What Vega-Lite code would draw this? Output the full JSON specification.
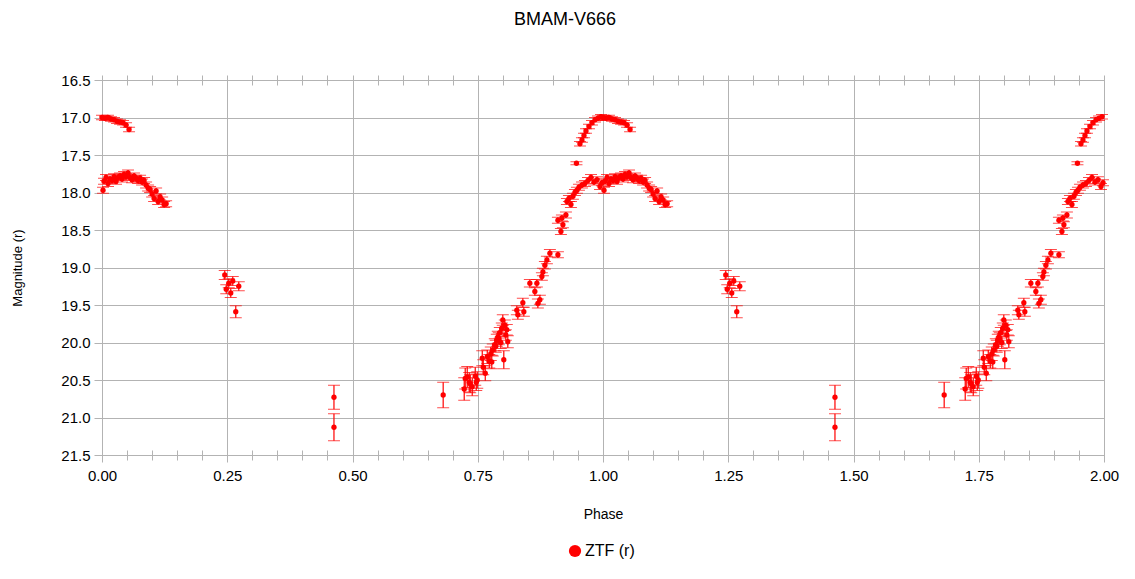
{
"$schema": "https://vega.github.io/schema/vega-lite/v6.json",
"width": 1002, "height": 375,
"autosize": {"type": "none"},
"padding": {"left": 102, "top": 80, "right": 31, "bottom": 124},
"background": "white",
"title": {"text": "BMAM-V666", "font": "Liberation Sans", "fontSize": 18, "fontWeight": "normal", "color": "#000", "anchor": "middle", "dx": -38, "offset": 44},
"data": {"values": [
{"p":0.000,"m":17.00,"e":0.03},{"p":0.006,"m":17.01,"e":0.03},{"p":0.012,"m":17.00,"e":0.03},{"p":0.018,"m":17.02,"e":0.03},{"p":0.024,"m":17.03,"e":0.03},{"p":0.030,"m":17.05,"e":0.03},{"p":0.036,"m":17.06,"e":0.03},{"p":0.042,"m":17.07,"e":0.03},{"p":0.048,"m":17.10,"e":0.03},{"p":0.054,"m":17.16,"e":0.03},
{"p":0.947,"m":17.61,"e":0.02},{"p":0.954,"m":17.35,"e":0.03},{"p":0.958,"m":17.30,"e":0.03},{"p":0.962,"m":17.24,"e":0.03},{"p":0.966,"m":17.18,"e":0.03},{"p":0.972,"m":17.12,"e":0.03},{"p":0.978,"m":17.07,"e":0.03},{"p":0.984,"m":17.03,"e":0.03},{"p":0.990,"m":17.01,"e":0.03},{"p":0.996,"m":16.99,"e":0.03},
{"p":0.002,"m":17.97,"e":0.04},{"p":0.004,"m":17.85,"e":0.04},{"p":0.008,"m":17.80,"e":0.04},{"p":0.012,"m":17.88,"e":0.04},{"p":0.016,"m":17.82,"e":0.04},{"p":0.020,"m":17.84,"e":0.04},{"p":0.024,"m":17.79,"e":0.04},{"p":0.028,"m":17.85,"e":0.04},{"p":0.032,"m":17.80,"e":0.04},{"p":0.036,"m":17.78,"e":0.04},{"p":0.040,"m":17.82,"e":0.04},{"p":0.044,"m":17.76,"e":0.04},{"p":0.048,"m":17.79,"e":0.04},{"p":0.052,"m":17.74,"e":0.04},{"p":0.056,"m":17.80,"e":0.04},{"p":0.060,"m":17.83,"e":0.04},{"p":0.064,"m":17.78,"e":0.04},{"p":0.068,"m":17.81,"e":0.04},{"p":0.072,"m":17.84,"e":0.04},{"p":0.076,"m":17.81,"e":0.04},{"p":0.080,"m":17.86,"e":0.04},{"p":0.084,"m":17.84,"e":0.04},{"p":0.088,"m":17.90,"e":0.04},{"p":0.092,"m":17.94,"e":0.04},{"p":0.096,"m":17.96,"e":0.04},{"p":0.100,"m":18.02,"e":0.04},{"p":0.104,"m":18.08,"e":0.04},{"p":0.108,"m":17.98,"e":0.04},{"p":0.112,"m":18.12,"e":0.04},{"p":0.116,"m":18.06,"e":0.04},{"p":0.120,"m":18.10,"e":0.04},{"p":0.124,"m":18.16,"e":0.04},{"p":0.128,"m":18.15,"e":0.04},
{"p":0.245,"m":19.10,"e":0.06},{"p":0.248,"m":19.29,"e":0.06},{"p":0.253,"m":19.21,"e":0.06},{"p":0.257,"m":19.34,"e":0.06},{"p":0.261,"m":19.18,"e":0.06},{"p":0.267,"m":19.59,"e":0.08},{"p":0.273,"m":19.25,"e":0.06},
{"p":0.463,"m":20.73,"e":0.16},{"p":0.463,"m":21.13,"e":0.18},{"p":0.681,"m":20.70,"e":0.17},
{"p":0.723,"m":20.62,"e":0.15},{"p":0.725,"m":20.48,"e":0.14},{"p":0.729,"m":20.46,"e":0.14},{"p":0.733,"m":20.53,"e":0.13},{"p":0.735,"m":20.55,"e":0.12},{"p":0.739,"m":20.59,"e":0.12},{"p":0.745,"m":20.45,"e":0.12},{"p":0.747,"m":20.53,"e":0.11},{"p":0.749,"m":20.50,"e":0.11},{"p":0.759,"m":20.21,"e":0.10},{"p":0.761,"m":20.33,"e":0.10},{"p":0.765,"m":20.41,"e":0.10},{"p":0.769,"m":20.19,"e":0.09},{"p":0.773,"m":20.25,"e":0.09},{"p":0.776,"m":20.15,"e":0.09},{"p":0.778,"m":20.26,"e":0.09},{"p":0.780,"m":20.10,"e":0.08},{"p":0.784,"m":20.03,"e":0.08},{"p":0.786,"m":20.05,"e":0.08},{"p":0.788,"m":19.97,"e":0.08},{"p":0.790,"m":19.93,"e":0.08},{"p":0.792,"m":19.95,"e":0.08},{"p":0.794,"m":19.87,"e":0.07},{"p":0.796,"m":20.00,"e":0.08},{"p":0.798,"m":19.81,"e":0.07},{"p":0.800,"m":19.70,"e":0.07},{"p":0.802,"m":20.23,"e":0.12},{"p":0.804,"m":19.77,"e":0.07},{"p":0.806,"m":19.90,"e":0.07},{"p":0.808,"m":19.83,"e":0.07},{"p":0.810,"m":19.99,"e":0.08},{"p":0.828,"m":19.57,"e":0.06},{"p":0.830,"m":19.63,"e":0.06},{"p":0.840,"m":19.47,"e":0.06},{"p":0.842,"m":19.59,"e":0.06},{"p":0.854,"m":19.21,"e":0.05},{"p":0.864,"m":19.32,"e":0.05},{"p":0.868,"m":19.21,"e":0.05},{"p":0.870,"m":19.48,"e":0.06},{"p":0.874,"m":19.43,"e":0.06},{"p":0.878,"m":19.12,"e":0.05},{"p":0.880,"m":19.06,"e":0.05},{"p":0.884,"m":18.97,"e":0.05},{"p":0.888,"m":18.90,"e":0.05},{"p":0.894,"m":18.81,"e":0.05},{"p":0.910,"m":18.83,"e":0.04},
{"p":0.910,"m":18.37,"e":0.04},{"p":0.916,"m":18.52,"e":0.04},{"p":0.918,"m":18.34,"e":0.04},{"p":0.920,"m":18.43,"e":0.04},{"p":0.926,"m":18.30,"e":0.04},{"p":0.928,"m":18.12,"e":0.04},{"p":0.932,"m":18.08,"e":0.04},{"p":0.936,"m":18.16,"e":0.04},{"p":0.940,"m":18.05,"e":0.04},{"p":0.944,"m":18.00,"e":0.04},{"p":0.948,"m":17.97,"e":0.04},{"p":0.952,"m":17.93,"e":0.04},{"p":0.958,"m":17.90,"e":0.04},{"p":0.964,"m":17.88,"e":0.04},{"p":0.970,"m":17.84,"e":0.04},{"p":0.976,"m":17.80,"e":0.04},{"p":0.982,"m":17.86,"e":0.04},{"p":0.988,"m":17.83,"e":0.04},{"p":0.994,"m":17.92,"e":0.04},{"p":0.998,"m":17.87,"e":0.04},

{"p":1.000,"m":17.00,"e":0.03},{"p":1.006,"m":17.01,"e":0.03},{"p":1.012,"m":17.00,"e":0.03},{"p":1.018,"m":17.02,"e":0.03},{"p":1.024,"m":17.03,"e":0.03},{"p":1.030,"m":17.05,"e":0.03},{"p":1.036,"m":17.06,"e":0.03},{"p":1.042,"m":17.07,"e":0.03},{"p":1.048,"m":17.10,"e":0.03},{"p":1.054,"m":17.16,"e":0.03},
{"p":1.947,"m":17.61,"e":0.02},{"p":1.954,"m":17.35,"e":0.03},{"p":1.958,"m":17.30,"e":0.03},{"p":1.962,"m":17.24,"e":0.03},{"p":1.966,"m":17.18,"e":0.03},{"p":1.972,"m":17.12,"e":0.03},{"p":1.978,"m":17.07,"e":0.03},{"p":1.984,"m":17.03,"e":0.03},{"p":1.990,"m":17.01,"e":0.03},{"p":1.996,"m":16.99,"e":0.03},
{"p":1.002,"m":17.97,"e":0.04},{"p":1.004,"m":17.85,"e":0.04},{"p":1.008,"m":17.80,"e":0.04},{"p":1.012,"m":17.88,"e":0.04},{"p":1.016,"m":17.82,"e":0.04},{"p":1.020,"m":17.84,"e":0.04},{"p":1.024,"m":17.79,"e":0.04},{"p":1.028,"m":17.85,"e":0.04},{"p":1.032,"m":17.80,"e":0.04},{"p":1.036,"m":17.78,"e":0.04},{"p":1.040,"m":17.82,"e":0.04},{"p":1.044,"m":17.76,"e":0.04},{"p":1.048,"m":17.79,"e":0.04},{"p":1.052,"m":17.74,"e":0.04},{"p":1.056,"m":17.80,"e":0.04},{"p":1.060,"m":17.83,"e":0.04},{"p":1.064,"m":17.78,"e":0.04},{"p":1.068,"m":17.81,"e":0.04},{"p":1.072,"m":17.84,"e":0.04},{"p":1.076,"m":17.81,"e":0.04},{"p":1.080,"m":17.86,"e":0.04},{"p":1.084,"m":17.84,"e":0.04},{"p":1.088,"m":17.90,"e":0.04},{"p":1.092,"m":17.94,"e":0.04},{"p":1.096,"m":17.96,"e":0.04},{"p":1.100,"m":18.02,"e":0.04},{"p":1.104,"m":18.08,"e":0.04},{"p":1.108,"m":17.98,"e":0.04},{"p":1.112,"m":18.12,"e":0.04},{"p":1.116,"m":18.06,"e":0.04},{"p":1.120,"m":18.10,"e":0.04},{"p":1.124,"m":18.16,"e":0.04},{"p":1.128,"m":18.15,"e":0.04},
{"p":1.245,"m":19.10,"e":0.06},{"p":1.248,"m":19.29,"e":0.06},{"p":1.253,"m":19.21,"e":0.06},{"p":1.257,"m":19.34,"e":0.06},{"p":1.261,"m":19.18,"e":0.06},{"p":1.267,"m":19.59,"e":0.08},{"p":1.273,"m":19.25,"e":0.06},
{"p":1.463,"m":20.73,"e":0.16},{"p":1.463,"m":21.13,"e":0.18},{"p":1.681,"m":20.70,"e":0.17},
{"p":1.723,"m":20.62,"e":0.15},{"p":1.725,"m":20.48,"e":0.14},{"p":1.729,"m":20.46,"e":0.14},{"p":1.733,"m":20.53,"e":0.13},{"p":1.735,"m":20.55,"e":0.12},{"p":1.739,"m":20.59,"e":0.12},{"p":1.745,"m":20.45,"e":0.12},{"p":1.747,"m":20.53,"e":0.11},{"p":1.749,"m":20.50,"e":0.11},{"p":1.759,"m":20.21,"e":0.10},{"p":1.761,"m":20.33,"e":0.10},{"p":1.765,"m":20.41,"e":0.10},{"p":1.769,"m":20.19,"e":0.09},{"p":1.773,"m":20.25,"e":0.09},{"p":1.776,"m":20.15,"e":0.09},{"p":1.778,"m":20.26,"e":0.09},{"p":1.780,"m":20.10,"e":0.08},{"p":1.784,"m":20.03,"e":0.08},{"p":1.786,"m":20.05,"e":0.08},{"p":1.788,"m":19.97,"e":0.08},{"p":1.790,"m":19.93,"e":0.08},{"p":1.792,"m":19.95,"e":0.08},{"p":1.794,"m":19.87,"e":0.07},{"p":1.796,"m":20.00,"e":0.08},{"p":1.798,"m":19.81,"e":0.07},{"p":1.800,"m":19.70,"e":0.07},{"p":1.802,"m":20.23,"e":0.12},{"p":1.804,"m":19.77,"e":0.07},{"p":1.806,"m":19.90,"e":0.07},{"p":1.808,"m":19.83,"e":0.07},{"p":1.810,"m":19.99,"e":0.08},{"p":1.828,"m":19.57,"e":0.06},{"p":1.830,"m":19.63,"e":0.06},{"p":1.840,"m":19.47,"e":0.06},{"p":1.842,"m":19.59,"e":0.06},{"p":1.854,"m":19.21,"e":0.05},{"p":1.864,"m":19.32,"e":0.05},{"p":1.868,"m":19.21,"e":0.05},{"p":1.870,"m":19.48,"e":0.06},{"p":1.874,"m":19.43,"e":0.06},{"p":1.878,"m":19.12,"e":0.05},{"p":1.880,"m":19.06,"e":0.05},{"p":1.884,"m":18.97,"e":0.05},{"p":1.888,"m":18.90,"e":0.05},{"p":1.894,"m":18.81,"e":0.05},{"p":1.910,"m":18.83,"e":0.04},
{"p":1.910,"m":18.37,"e":0.04},{"p":1.916,"m":18.52,"e":0.04},{"p":1.918,"m":18.34,"e":0.04},{"p":1.920,"m":18.43,"e":0.04},{"p":1.926,"m":18.30,"e":0.04},{"p":1.928,"m":18.12,"e":0.04},{"p":1.932,"m":18.08,"e":0.04},{"p":1.936,"m":18.16,"e":0.04},{"p":1.940,"m":18.05,"e":0.04},{"p":1.944,"m":18.00,"e":0.04},{"p":1.948,"m":17.97,"e":0.04},{"p":1.952,"m":17.93,"e":0.04},{"p":1.958,"m":17.90,"e":0.04},{"p":1.964,"m":17.88,"e":0.04},{"p":1.970,"m":17.84,"e":0.04},{"p":1.976,"m":17.80,"e":0.04},{"p":1.982,"m":17.86,"e":0.04},{"p":1.988,"m":17.83,"e":0.04},{"p":1.994,"m":17.92,"e":0.04},{"p":1.998,"m":17.87,"e":0.04}
]},
"resolve": {"axis": {"x": "independent"}},
"layer": [
{
"encoding": {
"x": {"field": "p", "type": "quantitative", "scale": {"domain": [0, 2], "nice": false, "zero": false},
"axis": {"orient": "bottom", "values": [0, 0.25, 0.5, 0.75, 1, 1.25, 1.5, 1.75, 2], "format": ".2f", "title": "Phase", "labelFontSize": 15, "titleFontSize": 14, "tickSize": 7, "labelPadding": 6, "titlePadding": 24, "labelFlush": false, "labelOverlap": false}},
"y": {"field": "m", "type": "quantitative", "scale": {"domain": [16.5, 21.5], "reverse": true, "nice": false, "zero": false},
"axis": {"values": [16.5, 17, 17.5, 18, 18.5, 19, 19.5, 20, 20.5, 21, 21.5], "format": ".1f", "title": "Magnitude (r)", "labelFontSize": 15, "titleFontSize": 13, "tickSize": 8, "labelPadding": 4, "titlePadding": 36, "labelOverlap": false, "labelFlush": false, "labelBound": false}}
},
"layer": [
{"mark": {"type": "errorbar", "color": "#ff0000", "ticks": {"size": 12, "strokeWidth": 1.5}, "rule": {"strokeWidth": 1.2}},
 "encoding": {"yError": {"field": "e"}}},
{"mark": {"type": "point", "filled": true, "size": 28, "opacity": 1},
 "encoding": {"color": {"datum": "ZTF (r)", "type": "nominal", "scale": {"range": ["#ff0000"]},
   "legend": {"title": null, "orient": "none", "legendX": 465, "legendY": 463, "symbolType": "circle", "symbolSize": 150, "labelFontSize": 16, "labelOffset": 2, "labelFont": "Liberation Sans", "labelColor": "#000", "padding": 0, "symbolOpacity": 1}}}}
]
},
{"mark": {"type": "point", "opacity": 0},
 "encoding": {
 "x": {"field": "p", "type": "quantitative", "axis": {"orient": "bottom", "values": [0.05,0.1,0.15,0.2,0.3,0.35,0.4,0.45,0.55,0.6,0.65,0.7,0.8,0.85,0.9,0.95,1.05,1.1,1.15,1.2,1.3,1.35,1.4,1.45,1.55,1.6,1.65,1.7,1.8,1.85,1.9,1.95], "labels": false, "domain": false, "grid": false, "title": null, "offset": -5, "tickSize": 10}}}},
{"mark": {"type": "point", "opacity": 0},
 "encoding": {
 "x": {"field": "p", "type": "quantitative", "axis": {"orient": "top", "values": [0,0.05,0.1,0.15,0.2,0.25,0.3,0.35,0.4,0.45,0.5,0.55,0.6,0.65,0.7,0.75,0.8,0.85,0.9,0.95,1,1.05,1.1,1.15,1.2,1.25,1.3,1.35,1.4,1.45,1.5,1.55,1.6,1.65,1.7,1.75,1.8,1.85,1.9,1.95,2], "labels": false, "grid": false, "title": null, "offset": -5, "tickSize": 10, "domain": false}}}}
],
"config": {
"view": {"stroke": "#b3b3b3"},
"font": "Liberation Sans",
"axis": {"labelFont": "Liberation Sans", "titleFont": "Liberation Sans", "labelColor": "#000", "titleColor": "#000", "titleFontWeight": "normal", "gridColor": "#b3b3b3", "domainColor": "#b3b3b3", "tickColor": "#b3b3b3", "gridOpacity": 1}
}
}
